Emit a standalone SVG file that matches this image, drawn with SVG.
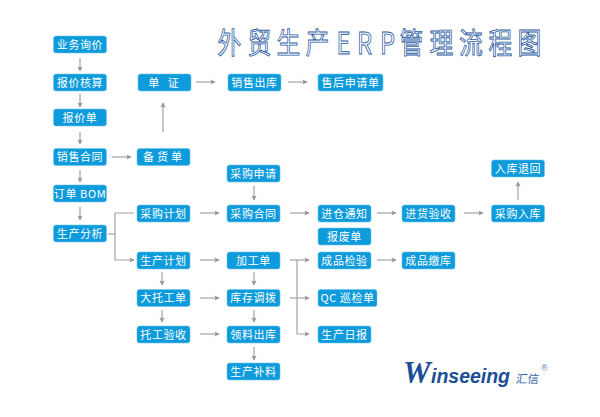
<svg xmlns="http://www.w3.org/2000/svg" width="600" height="417" viewBox="0 0 600 417">
<style>
.box{fill:#0e9bdb;stroke:#6cc4ec;stroke-width:.6}
.lbl{font-family:"Noto Sans CJK SC","Noto Sans",sans-serif;font-size:11px;fill:#fff;text-anchor:middle;letter-spacing:.6px}
.wide{letter-spacing:3px}
.ttl{font-family:"Noto Sans CJK SC","Noto Sans",sans-serif;font-size:27px;fill:#fff;stroke:#2a5a9f;stroke-width:.8;text-anchor:middle}
.ln{fill:none;stroke:#a3a3a3;stroke-width:1.2}
.ar{marker-end:url(#head)}
</style>
<defs>
<marker id="head" markerUnits="userSpaceOnUse" markerWidth="6" markerHeight="7" refX="5" refY="3.5" orient="auto"><path d="M0.5 0.9L5.5 3.5L0.5 6.1L1.6 3.5Z" fill="#939393"/></marker>
<g id="nodeBox"><rect class="box" width="53" height="17" rx="2.5"/></g>
</defs>
<rect width="600" height="417" fill="#fff"/>
<!-- heading: condensed, tall outlined glyphs -->
<g id="title">
<text class="ttl" transform="translate(229.500 53.500) scale(.88 1.08)">外</text>
<text class="ttl" transform="translate(259.500 53.500) scale(.88 1.08)">贸</text>
<text class="ttl" transform="translate(288.500 53.500) scale(.88 1.08)">生</text>
<text class="ttl" transform="translate(317.500 53.500) scale(.88 1.08)">产</text>
<text class="ttl" transform="translate(343.500 53.500) scale(.88 1.08)">E</text>
<text class="ttl" transform="translate(364.500 53.500) scale(.88 1.08)">R</text>
<text class="ttl" transform="translate(387.500 53.500) scale(.88 1.08)">P</text>
<text class="ttl" transform="translate(411.500 53.500) scale(.88 1.08)">管</text>
<text class="ttl" transform="translate(441.500 53.500) scale(.88 1.08)">理</text>
<text class="ttl" transform="translate(471 53.500) scale(.88 1.08)">流</text>
<text class="ttl" transform="translate(500.500 53.500) scale(.88 1.08)">程</text>
<text class="ttl" transform="translate(529.500 53.500) scale(.88 1.08)">图</text>
</g>
<!-- connectors -->
<g id="connectors">
<path class="ln ar" d="M80 58V71"/><path class="ln ar" d="M80 94V107"/><path class="ln ar" d="M80 132V144"/><path class="ln ar" d="M80 170V182"/><path class="ln ar" d="M80 207V220"/>
<path class="ln ar" d="M112 157H131"/><path class="ln ar" d="M163 132V103"/><path class="ln ar" d="M196 82H215"/><path class="ln ar" d="M288 82H307"/>
<path class="ln" d="M108 234H115"/><path class="ln ar" d="M134 213H115V260H134"/>
<path class="ln ar" d="M200 213H219"/><path class="ln ar" d="M200 260H219"/><path class="ln ar" d="M200 298H219"/><path class="ln ar" d="M200 334H219"/>
<path class="ln ar" d="M162 272V285"/><path class="ln ar" d="M162 310V322"/>
<path class="ln ar" d="M254 186V200"/><path class="ln ar" d="M254 272V285"/><path class="ln ar" d="M254 310V322"/><path class="ln ar" d="M254 347V360"/>
<path class="ln ar" d="M290 213H309"/><path class="ln ar" d="M377 213H396"/><path class="ln ar" d="M464 213H483"/><path class="ln ar" d="M518 200V182"/>
<path class="ln ar" d="M290 260H309"/><path class="ln ar" d="M297 260V334H309"/><path class="ln ar" d="M290 298H309"/><path class="ln ar" d="M377 260H396"/>
</g>
<!-- first column -->
<g id="n1"><use href="#nodeBox" x="53.500" y="36"/><text class="lbl" x="80" y="48.500">业务询价</text></g>
<g id="n2"><use href="#nodeBox" x="53.500" y="74"/><text class="lbl" x="80" y="86.500">报价核算</text></g>
<g id="n3"><use href="#nodeBox" x="53.500" y="109"/><text class="lbl" x="80" y="121.500">报价单</text></g>
<g id="n4"><use href="#nodeBox" x="53.500" y="148.500"/><text class="lbl" x="80" y="161">销售合同</text></g>
<g id="n5"><use href="#nodeBox" x="53.500" y="185"/><text class="lbl" x="80" y="197.500">订单 BOM</text></g>
<g id="n6"><use href="#nodeBox" x="53.500" y="225"/><text class="lbl" x="80" y="237.500">生产分析</text></g>
<!-- second column -->
<g id="n7"><use href="#nodeBox" x="138" y="74"/><text class="lbl wide" x="165" y="86.500">单 证</text></g>
<g id="n8"><use href="#nodeBox" x="137" y="148.500"/><text class="lbl wide" x="164" y="161">备货单</text></g>
<g id="n9"><use href="#nodeBox" x="137" y="205"/><text class="lbl" x="163.500" y="217.500">采购计划</text></g>
<g id="n10"><use href="#nodeBox" x="137" y="252"/><text class="lbl" x="163.500" y="264.500">生产计划</text></g>
<g id="n11"><use href="#nodeBox" x="137" y="289.500"/><text class="lbl" x="163.500" y="302">大托工单</text></g>
<g id="n12"><use href="#nodeBox" x="137" y="326"/><text class="lbl" x="163.500" y="338.500">托工验收</text></g>
<!-- third column -->
<g id="n13"><use href="#nodeBox" x="228" y="74"/><text class="lbl" x="254.500" y="86.500">销售出库</text></g>
<g id="n14"><use href="#nodeBox" x="227" y="165"/><text class="lbl" x="253.500" y="177.500">采购申请</text></g>
<g id="n15"><use href="#nodeBox" x="227" y="205"/><text class="lbl" x="253.500" y="217.500">采购合同</text></g>
<g id="n16"><use href="#nodeBox" x="227" y="252"/><text class="lbl" x="253.500" y="264.500">加工单</text></g>
<g id="n17"><use href="#nodeBox" x="227" y="289.500"/><text class="lbl" x="253.500" y="302">库存调拨</text></g>
<g id="n18"><use href="#nodeBox" x="227" y="326"/><text class="lbl" x="253.500" y="338.500">领料出库</text></g>
<g id="n19"><use href="#nodeBox" x="227" y="363"/><text class="lbl" x="253.500" y="375.500">生产补料</text></g>
<!-- fourth column -->
<g id="n20"><rect class="box" x="318" y="74" width="65" height="17" rx="2.5"/><text class="lbl" x="350.500" y="86.500">售后申请单</text></g>
<g id="n21"><use href="#nodeBox" x="318" y="205"/><text class="lbl" x="344.500" y="217.500">进仓通知</text></g>
<g id="n22"><use href="#nodeBox" x="318" y="228"/><text class="lbl" x="344.500" y="240.500">报废单</text></g>
<g id="n23"><use href="#nodeBox" x="318" y="252"/><text class="lbl" x="344.500" y="264.500">成品检验</text></g>
<g id="n24"><rect class="box" x="318" y="289.500" width="59" height="17" rx="2.500"/><text class="lbl" x="347.500" y="302">QC 巡检单</text></g>
<g id="n25"><use href="#nodeBox" x="318" y="326"/><text class="lbl" x="344.500" y="338.500">生产日报</text></g>
<!-- right-hand columns -->
<g id="n26"><use href="#nodeBox" x="402" y="205"/><text class="lbl" x="428.500" y="217.500">进货验收</text></g>
<g id="n27"><use href="#nodeBox" x="402" y="252"/><text class="lbl" x="428.500" y="264.500">成品缴库</text></g>
<g id="n28"><use href="#nodeBox" x="491.500" y="205"/><text class="lbl" x="518" y="217.500">采购入库</text></g>
<g id="n29"><use href="#nodeBox" x="491.500" y="160"/><text class="lbl" x="518" y="172.500">入库退回</text></g>
<!-- brand mark -->
<g id="logo" fill="#1c4e96">
<text x="403" y="383" font-family="'Liberation Serif',serif" font-style="italic" font-weight="700" font-size="31">W</text>
<text x="431" y="383" font-family="'Liberation Sans',sans-serif" font-style="italic" font-weight="700" font-size="20" textLength="79" lengthAdjust="spacingAndGlyphs">inseeing</text>
<text transform="translate(515.500 383) skewX(-8)" font-family="'Noto Sans CJK SC',sans-serif" font-size="11.500" fill="#2a64ac">汇信</text>
<text x="541" y="371" font-family="'Liberation Sans',sans-serif" font-size="9" fill="#5c84b8">®</text>
</g>
</svg>
